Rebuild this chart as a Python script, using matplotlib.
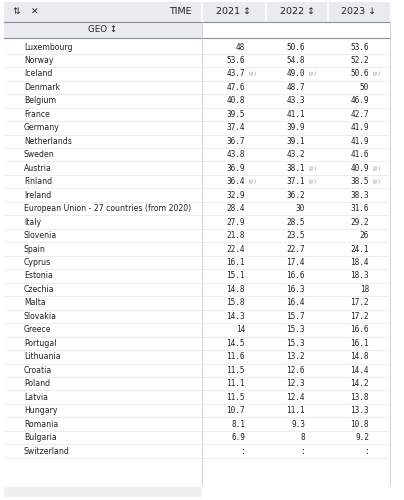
import matplotlib
matplotlib.use("Agg")
import matplotlib.pyplot as plt
from matplotlib.patches import Rectangle

countries = ["Luxembourg","Norway","Iceland","Denmark","Belgium","France","Germany","Netherlands",
 "Sweden","Austria","Finland","Ireland","European Union - 27 countries (from 2020)","Italy","Slovenia",
 "Spain","Cyprus","Estonia","Czechia","Malta","Slovakia","Greece","Portugal","Lithuania","Croatia",
 "Poland","Latvia","Hungary","Romania","Bulgaria","Switzerland"]
years = ["2021","2022","2023"]
v2021 = ["48","53.6","43.7","47.6","40.8","39.5","37.4","36.7","43.8","36.9","36.4","32.9","28.4","27.9","21.8",
 "22.4","16.1","15.1","14.8","15.8","14.3","14","14.5","11.6","11.5","11.1","11.5","10.7","8.1","6.9",":"]
v2022 = ["50.6","54.8","49.0","48.7","43.3","41.1","39.9","39.1","43.2","38.1","37.1","36.2","30","28.5","23.5",
 "22.7","17.4","16.6","16.3","16.4","15.7","15.3","15.3","13.2","12.6","12.3","12.4","11.1","9.3","8",":"]
v2023 = ["53.6","52.2","50.6","50","46.9","42.7","41.9","41.9","41.6","40.9","38.5","38.3","31.6","29.2","26",
 "24.1","18.4","18.3","18","17.2","17.2","16.6","16.1","14.8","14.4","14.2","13.8","13.3","10.8","9.2",":"]
prov2021 = ["Iceland","Finland"]
prov2022 = ["Iceland","Austria","Finland"]
prov2023 = ["Iceland","Austria","Finland"]

W, H = 404, 500
fig = plt.figure(figsize=(W/100, H/100), dpi=100)
ax = fig.add_axes([0, 0, 1, 1])
ax.set_xlim(0, W); ax.set_ylim(H, 0); ax.axis("off")

hdr = "#e8ecf0"; line = "#c8cdd2"; txt = "#222222"
ax.add_patch(Rectangle((4, 2), 386, 20, color=hdr, lw=0))
ax.add_patch(Rectangle((4, 22), 198, 16, color=hdr, lw=0))
ax.add_patch(Rectangle((4, 487), 198, 10, color="#eef0f2", lw=0))
for x in [202, 266, 328]:
    ax.plot([x, x], [2, 22], color="#ffffff", lw=1.2)
ax.plot([4, 390], [21.5, 21.5], color="#8a9096", lw=0.8)
ax.plot([4, 390], [38, 38], color="#8a9096", lw=0.8)
ax.plot([202, 202], [22, 485], color=line, lw=0.6)
ax.plot([390, 390], [22, 485], color=line, lw=0.6)
ax.text(12, 12, "⇅", fontsize=6.5, ha="left", va="center", color=txt)
ax.text(31, 12, "✕", fontsize=6.5, ha="left", va="center", color=txt, fontweight="bold")
ax.text(192, 11, "TIME", fontsize=6.8, ha="right", va="center", color=txt)
arrows = ["↕", "↕", "↓"]
for i, (y, a) in enumerate(zip(years, arrows)):
    cx = [234, 297, 359][i]
    ax.text(cx, 12, y + " " + a, fontsize=6.8, ha="center", va="center", color=txt)
ax.text(103, 30, "GEO ↕", fontsize=6.3, ha="center", va="center", color=txt)

y0, dy = 47, 13.47
rights = [245, 305, 369]
cols = [(v2021, prov2021), (v2022, prov2022), (v2023, prov2023)]
for i, c in enumerate(countries):
    y = y0 + i * dy
    ax.plot([4, 390], [y + 6.7, y + 6.7], color="#e3e6e9", lw=0.5)
    ax.text(24, y, c, fontsize=5.6, ha="left", va="center", color=txt)
    for j, (vals, prov) in enumerate(cols):
        ax.text(rights[j], y, vals[i], fontsize=5.6, ha="right", va="center", color=txt, family="DejaVu Sans Mono")
        if c in prov:
            ax.text(rights[j] + 3, y, "(p)", fontsize=4, ha="left", va="center", color="#999999", family="DejaVu Sans Mono")

fig.savefig("out.png", dpi=100)
